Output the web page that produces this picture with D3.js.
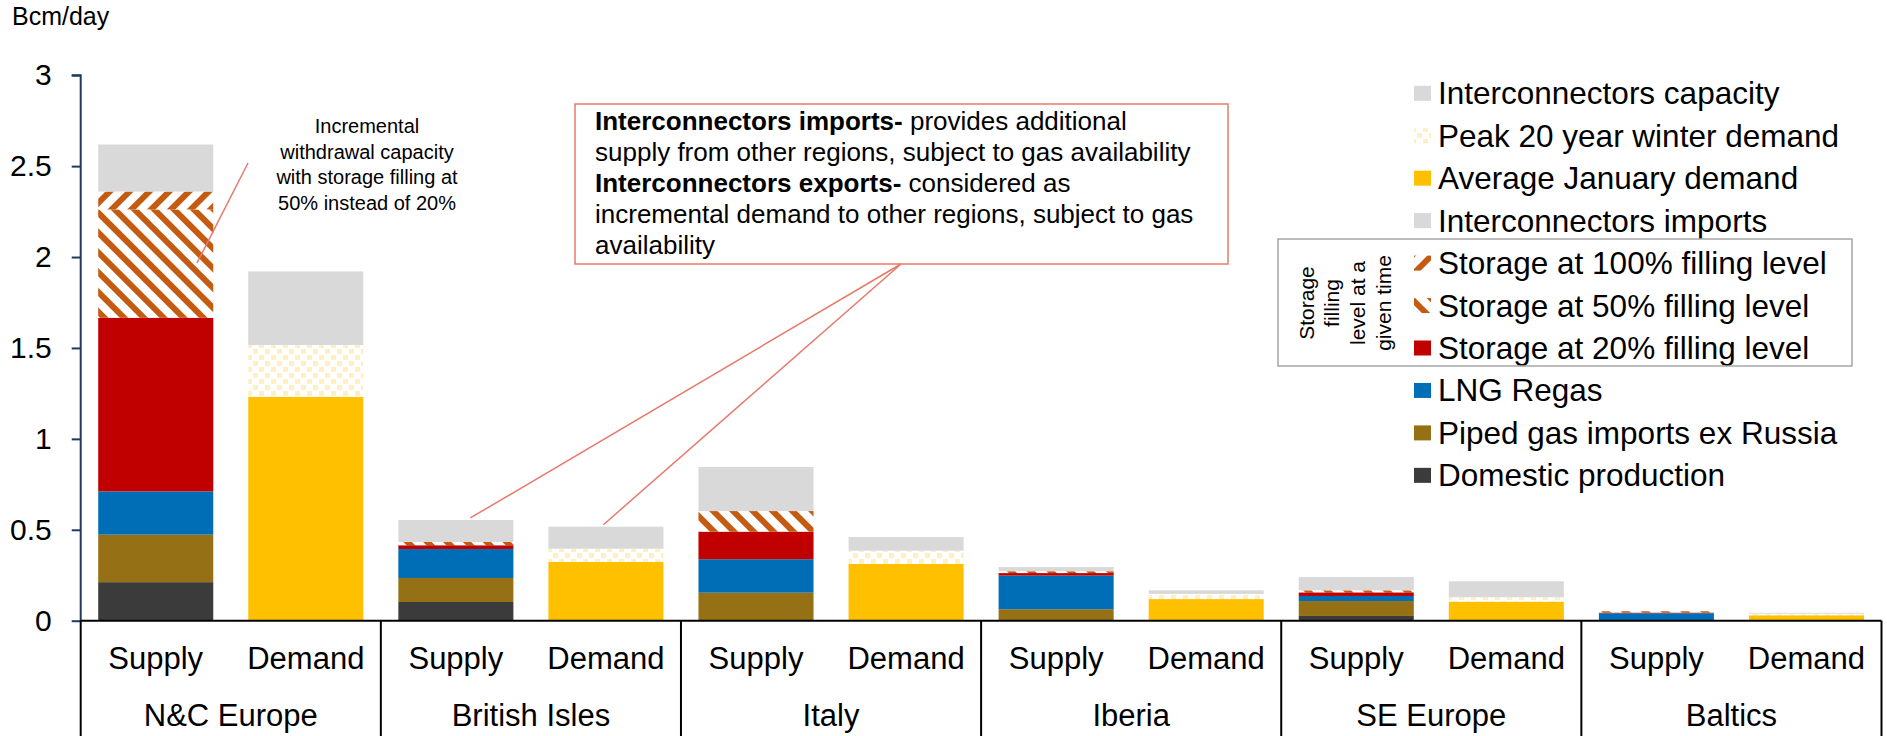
<!DOCTYPE html>
<html>
<head>
<meta charset="utf-8">
<script src="https://cdn.jsdelivr.net/npm/d3@7"></script>
<style>
  html, body { margin: 0; padding: 0; background: #fff; }
  svg { display: block; font-family: "Liberation Sans", Arial, sans-serif; }
</style>
</head>
<body>
<svg id="chart" width="1887" height="736"></svg>
<script>
// ---------- DATA ----------
const regions = ["N&C Europe", "British Isles", "Italy", "Iberia", "SE Europe", "Baltics"];
const kinds = ["Supply", "Demand"];
const yTicks = [0, 0.5, 1, 1.5, 2, 2.5, 3];
const yTickLabels = ["0", "0.5", "1", "1.5", "2", "2.5", "3"];

// Supply segments (bottom to top), Bcm/day
const domesticProduction = [0.212, 0.103, 0.000, 0.000, 0.026, 0.000];
const pipedImportsExRussia = [0.261, 0.132, 0.154, 0.063, 0.082, 0.000];
const lngRegas = [0.238, 0.159, 0.184, 0.185, 0.028, 0.041];
const storage20 = [0.955, 0.021, 0.152, 0.014, 0.020, 0.004];
const storage50 = [0.596, 0.018, 0.113, 0.010, 0.011, 0.007];
const storage100 = [0.098, 0.000, 0.000, 0.000, 0.000, 0.000];
const interconnectorsImports = [0.259, 0.121, 0.243, 0.023, 0.073, 0.000];

// Demand segments (bottom to top), Bcm/day
const averageJanuaryDemand = [1.232, 0.323, 0.312, 0.119, 0.105, 0.030];
const peak20YearWinterDemand = [0.284, 0.073, 0.073, 0.028, 0.024, 0.009];
const interconnectorsCapacity = [0.405, 0.121, 0.075, 0.020, 0.088, 0.005];

const legendLabels = [
  "Interconnectors capacity",
  "Peak 20 year winter demand",
  "Average January demand",
  "Interconnectors imports",
  "Storage at 100% filling level",
  "Storage at 50% filling level",
  "Storage at 20% filling level",
  "LNG Regas",
  "Piped gas imports ex Russia",
  "Domestic production"
];
const boxNoteLines = ["Storage", "filling", "level at a", "given time"];
const leftNoteLines = ["Incremental", "withdrawal capacity", "with storage filling at", "50% instead of 20%"];
const calloutLines = [
  [["Interconnectors imports-", true], [" provides additional", false]],
  [["supply from other regions, subject to gas availability", false]],
  [["Interconnectors exports-", true], [" considered as", false]],
  [["incremental demand to other regions, subject to gas", false]],
  [["availability", false]]
];

// ---------- STYLE ----------
const C = {
  gray: "#D9D9D9", yellow: "#FFC000", red: "#C00000", blue: "#006EB6",
  brown: "#967014", dark: "#3B3B3B", hatch: "#C55A11", note: "#E8796B"
};

const supplySeries = [
  { key: "dom", values: domesticProduction, fill: C.dark },
  { key: "pip", values: pipedImportsExRussia, fill: C.brown },
  { key: "lng", values: lngRegas, fill: C.blue },
  { key: "s20", values: storage20, fill: C.red },
  { key: "s50", values: storage50, fill: "url(#hatch50)" },
  { key: "s100", values: storage100, fill: "url(#hatch100)" },
  { key: "imp", values: interconnectorsImports, fill: C.gray }
];
const demandSeries = [
  { key: "avg", values: averageJanuaryDemand, fill: C.yellow },
  { key: "peak", values: peak20YearWinterDemand, fill: "url(#dots)" },
  { key: "cap", values: interconnectorsCapacity, fill: C.gray }
];
const legendFills = [C.gray, "url(#dots)", C.yellow, C.gray, "url(#hatch100)", "url(#hatch50)", C.red, C.blue, C.brown, C.dark];

const svg = d3.select("#chart");
const FONT = "'Liberation Sans', Arial, sans-serif";

// ---------- PATTERNS ----------
const defs = svg.append("defs");
function hatch(id, angle) {
  const p = defs.append("pattern").attr("id", id)
    .attr("patternUnits", "userSpaceOnUse").attr("width", 14).attr("height", 14)
    .attr("patternTransform", `rotate(${angle})`);
  p.append("rect").attr("width", 14).attr("height", 14).attr("fill", "#fff");
  p.append("rect").attr("x", 0).attr("width", 6).attr("height", 14).attr("fill", C.hatch);
}
hatch("hatch50", -45);
hatch("hatch100", 45);
const dp = defs.append("pattern").attr("id", "dots")
  .attr("patternUnits", "userSpaceOnUse").attr("width", 12).attr("height", 12);
dp.append("rect").attr("width", 12).attr("height", 12).attr("fill", "#fff");
dp.append("rect").attr("x", 1).attr("y", 1).attr("width", 5).attr("height", 5).attr("fill", "#FFEFC2");
dp.append("rect").attr("x", 7).attr("y", 7).attr("width", 5).attr("height", 5).attr("fill", "#FFEFC2");

// ---------- SCALES ----------
const plotLeft = 80.7, plotRight = 1881.5, yBase = 620.7, yTop = 75.2;
const x0 = d3.scaleBand().domain(regions).range([plotLeft, plotRight]).padding(0);
const x1 = d3.scaleBand().domain(kinds).range([0, x0.bandwidth()])
  .paddingInner(35 / 150).paddingOuter(17.5 / 150);
const y = d3.scaleLinear().domain([0, 3]).range([yBase, yTop]);

// ---------- BARS ----------
function drawStack(series, kind) {
  regions.forEach((r, i) => {
    let acc = 0;
    series.forEach(s => {
      const v = s.values[i];
      if (v > 0) {
        svg.append("rect")
          .attr("x", x0(r) + x1(kind))
          .attr("width", x1.bandwidth())
          .attr("y", y(acc + v))
          .attr("height", y(acc) - y(acc + v))
          .attr("fill", s.fill);
      }
      acc += v;
    });
  });
}
drawStack(supplySeries, "Supply");
drawStack(demandSeries, "Demand");

// ---------- Y AXIS ----------
const yAxis = d3.axisLeft(y).tickValues(yTicks)
  .tickFormat((d, i) => yTickLabels[i]).tickSize(9).tickPadding(20);
const gy = svg.append("g").attr("transform", `translate(${plotLeft},0)`).call(yAxis);
gy.select(".domain").attr("stroke", "#1F3A5C").attr("stroke-width", 2).attr("d", `M-9,${yTop}H0V${yBase}`);
gy.selectAll(".tick line").attr("stroke", "#1F3A5C").attr("stroke-width", 2);
gy.selectAll(".tick text").attr("font-size", 30).attr("font-family", FONT).attr("fill", "#000");

svg.append("text").attr("x", 12).attr("y", 25).attr("font-size", 25).attr("font-family", FONT)
  .text("Bcm/day");

// ---------- CATEGORY AXIS ----------
svg.append("line").attr("x1", plotLeft).attr("x2", plotRight).attr("y1", yBase).attr("y2", yBase)
  .attr("stroke", "#000").attr("stroke-width", 2);
const seps = regions.map(r => x0(r)).concat([plotRight]);
seps.forEach(sx => {
  svg.append("line").attr("x1", sx).attr("x2", sx).attr("y1", yBase).attr("y2", 736)
    .attr("stroke", "#000").attr("stroke-width", 2);
});
regions.forEach(r => {
  kinds.forEach(k => {
    svg.append("text").attr("x", x0(r) + x1(k) + x1.bandwidth() / 2).attr("y", 669)
      .attr("text-anchor", "middle").attr("font-size", 31).attr("font-family", FONT).text(k);
  });
  svg.append("text").attr("x", x0(r) + x0.bandwidth() / 2).attr("y", 726)
    .attr("text-anchor", "middle").attr("font-size", 31).attr("font-family", FONT).text(r);
});

// ---------- LEGEND ----------
const legX = 1414, legY0 = 93.3, legStep = 42.45;
legendLabels.forEach((lab, i) => {
  const cy = legY0 + i * legStep;
  svg.append("rect").attr("x", legX).attr("y", cy - 7.5).attr("width", 17).attr("height", 15)
    .attr("fill", legendFills[i]);
  svg.append("text").attr("x", legX + 24).attr("y", cy + 11).attr("font-size", 31.5)
    .attr("font-family", FONT).text(lab);
});
svg.append("rect").attr("x", 1278).attr("y", 239).attr("width", 574).attr("height", 127)
  .attr("fill", "none").attr("stroke", "#A6A6A6").attr("stroke-width", 1.5);
const colX = [1306, 1331.5, 1357, 1383];
boxNoteLines.forEach((t, i) => {
  svg.append("text").attr("transform", `translate(${colX[i] + 7.5},303) rotate(-90)`)
    .attr("text-anchor", "middle").attr("font-size", 21).attr("font-family", FONT).text(t);
});

// ---------- LEFT NOTE ----------
leftNoteLines.forEach((t, i) => {
  svg.append("text").attr("x", 367).attr("y", 133 + i * 25.5).attr("text-anchor", "middle")
    .attr("font-size", 20).attr("font-family", FONT).text(t);
});
svg.append("line").attr("x1", 248).attr("y1", 163).attr("x2", 197).attr("y2", 263)
  .attr("stroke", C.note).attr("stroke-width", 1.5);

// ---------- CALLOUT BOX ----------
svg.append("rect").attr("x", 575).attr("y", 104).attr("width", 653).attr("height", 160)
  .attr("fill", "#fff").attr("stroke", C.note).attr("stroke-width", 1.5);
calloutLines.forEach((parts, i) => {
  const t = svg.append("text").attr("x", 595).attr("y", 130 + i * 31).attr("font-size", 26)
    .attr("font-family", FONT);
  parts.forEach(([s, b]) => {
    t.append("tspan").attr("font-weight", b ? "bold" : "normal").text(s);
  });
});
const biX = x0("British Isles");
const biSupplyTop = y(domesticProduction[1] + pipedImportsExRussia[1] + lngRegas[1] + storage20[1] + storage50[1] + storage100[1] + interconnectorsImports[1]);
const biDemandTop = y(averageJanuaryDemand[1] + peak20YearWinterDemand[1] + interconnectorsCapacity[1]);
svg.append("line").attr("x1", 901).attr("y1", 264)
  .attr("x2", biX + x1("Supply") + 72).attr("y2", biSupplyTop - 2)
  .attr("stroke", C.note).attr("stroke-width", 1.5);
svg.append("line").attr("x1", 901).attr("y1", 264)
  .attr("x2", biX + x1("Demand") + 55).attr("y2", biDemandTop - 2)
  .attr("stroke", C.note).attr("stroke-width", 1.5);
</script>
</body>
</html>
